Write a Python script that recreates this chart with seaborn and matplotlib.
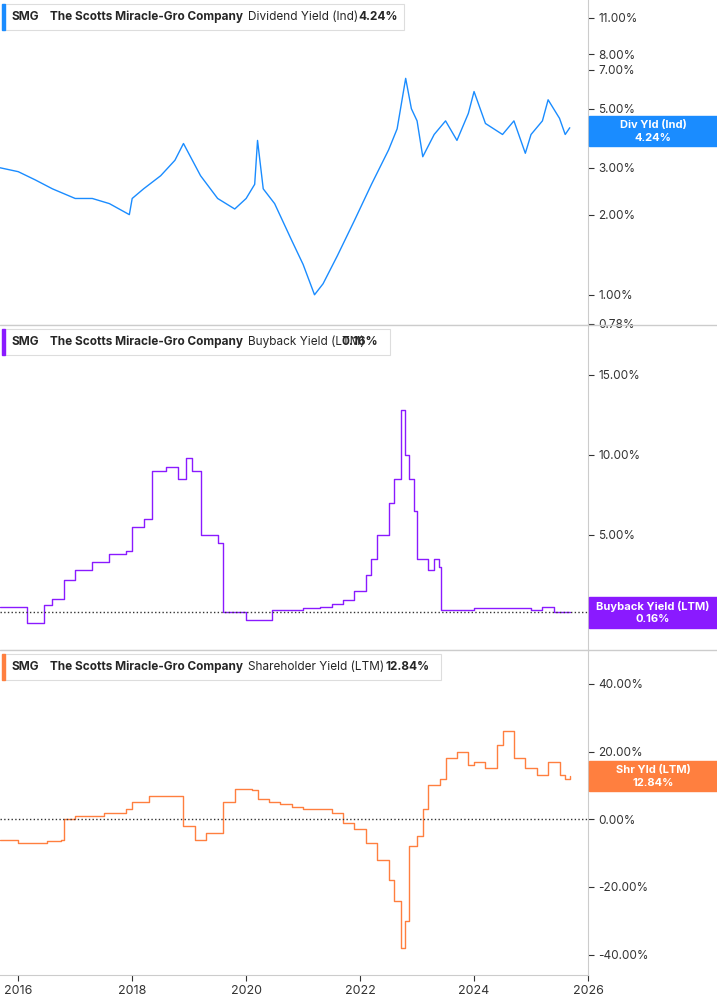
import matplotlib
matplotlib.use("Agg")
import matplotlib.pyplot as plt
import matplotlib.ticker as ticker
import seaborn as sns
import pandas as pd

sns.set_style("white")
plt.rcParams["font.family"] = "Inter"

# dividend yield (%), by decimal year
div_t = [2015.68, 2016.0, 2016.3, 2016.6, 2017.0, 2017.3, 2017.6, 2017.95, 2018.0, 2018.2, 2018.5, 2018.75, 2018.9,
         2019.2, 2019.5, 2019.8, 2020.0, 2020.15, 2020.2, 2020.3, 2020.5, 2020.8, 2021.0, 2021.2, 2021.35, 2021.6,
         2021.9, 2022.2, 2022.5, 2022.65, 2022.8, 2022.9, 2023.0, 2023.1, 2023.3, 2023.5, 2023.7, 2023.9, 2024.0,
         2024.2, 2024.5, 2024.7, 2024.9, 2025.0, 2025.2, 2025.3, 2025.5, 2025.6, 2025.68]
div_v = [3.0, 2.9, 2.7, 2.5, 2.3, 2.3, 2.2, 2.0, 2.3, 2.5, 2.8, 3.2, 3.7,
         2.8, 2.3, 2.1, 2.3, 2.6, 3.8, 2.5, 2.2, 1.6, 1.3, 1.0, 1.1, 1.4,
         1.9, 2.6, 3.5, 4.2, 6.5, 5.0, 4.5, 3.3, 4.0, 4.5, 3.8, 4.8, 5.8,
         4.4, 4.0, 4.5, 3.4, 4.0, 4.5, 5.4, 4.6, 4.0, 4.24]

# buyback yield (%)
bb_t = [2015.68, 2016.1, 2016.15, 2016.4, 2016.45, 2016.6, 2016.8, 2017.0, 2017.3, 2017.6, 2017.9, 2018.0, 2018.2,
        2018.35, 2018.6, 2018.8, 2018.95, 2019.05, 2019.2, 2019.5, 2019.6, 2019.9, 2020.0, 2020.4, 2020.45, 2021.0,
        2021.3, 2021.5, 2021.7, 2021.9, 2022.1, 2022.2, 2022.3, 2022.5, 2022.6, 2022.72, 2022.78, 2022.85, 2022.95,
        2023.0, 2023.2, 2023.3, 2023.38, 2023.42, 2024.0, 2025.0, 2025.2, 2025.4, 2025.68]
bb_v = [0.5, 0.5, -0.5, -0.5, 0.6, 1.0, 2.2, 2.8, 3.3, 3.8, 4.0, 5.5, 6.0,
        9.0, 9.2, 8.5, 9.8, 9.0, 5.0, 4.5, 0.2, 0.2, -0.3, -0.3, 0.3, 0.4,
        0.5, 0.7, 0.9, 1.5, 2.5, 3.5, 5.0, 7.0, 8.5, 12.8, 10.0, 8.5, 6.5,
        3.5, 2.8, 3.5, 3.0, 0.3, 0.4, 0.3, 0.5, 0.2, 0.16]

# shareholder yield (%)
sh_t = [2015.68, 2016.0, 2016.5, 2016.75, 2016.8, 2017.0, 2017.5, 2017.9, 2018.0, 2018.3, 2018.8, 2018.9, 2019.1,
        2019.3, 2019.6, 2019.8, 2020.1, 2020.2, 2020.4, 2020.6, 2020.8, 2021.0, 2021.3, 2021.5, 2021.7, 2021.9,
        2022.1, 2022.3, 2022.5, 2022.6, 2022.72, 2022.78, 2022.85, 2023.0, 2023.1, 2023.2, 2023.4, 2023.5, 2023.7,
        2023.9, 2024.0, 2024.2, 2024.4, 2024.5, 2024.7, 2024.9, 2025.1, 2025.3, 2025.5, 2025.6, 2025.68]
sh_v = [-6, -7, -6.5, -6, 0, 1, 2, 3, 5, 7, 7, -2, -6,
        -4, 5, 9, 8.5, 6, 5, 4.5, 3.5, 3, 3, 2, -1, -3,
        -7, -12, -18, -24, -38, -30, -8, -5, 3, 10, 12, 18, 20,
        16, 17, 15, 22, 26, 18, 15, 13, 17, 13, 12, 12.84]

W, H = 717, 1005
fig = plt.figure(figsize=(W / 100, H / 100), dpi=100)

def pax(top, bottom):
    return fig.add_axes([0, 1 - bottom / H, 588 / W, (bottom - top) / H])

ax1 = pax(0, 325)
ax2 = pax(325, 650)
ax3 = pax(650, 975)

blue, purple, orange = "#1a8cff", "#8a1aff", "#ff7f3f"

sns.lineplot(data=pd.DataFrame({"t": div_t, "v": div_v}), x="t", y="v", ax=ax1, color=blue, lw=1)
sns.lineplot(data=pd.DataFrame({"t": bb_t, "v": bb_v}), x="t", y="v", ax=ax2, color=purple, lw=1, drawstyle="steps-post")
sns.lineplot(data=pd.DataFrame({"t": sh_t, "v": sh_v}), x="t", y="v", ax=ax3, color=orange, lw=1, drawstyle="steps-post")

ax1.set_yscale("log")
ax1.set_ylim(0.77, 12.8)
ax1.yaxis.set_major_locator(ticker.FixedLocator([0.78, 1, 2, 3, 5, 7, 8, 11]))
ax1.yaxis.set_minor_locator(ticker.NullLocator())
ax2.set_ylim(-2.2, 18.1)
ax2.set_yticks([5, 10, 15])
ax3.set_ylim(-46, 50)
ax3.set_yticks([-40, -20, 0, 20, 40])
ax2.axhline(0.16, color="#333", ls=":", lw=1)
ax3.axhline(0, color="#333", ls=":", lw=1)

for ax in (ax1, ax2, ax3):
    ax.set_xlim(2015.68, 2026.0)
    ax.set_xlabel("")
    ax.set_ylabel("")
    ax.yaxis.tick_right()
    ax.yaxis.set_major_formatter(ticker.FuncFormatter(lambda v, p: f"{v:.2f}%"))
    ax.tick_params(axis="y", labelsize=8.5, colors="#333", length=4, right=True)
    for s in ("left", "top"):
        ax.spines[s].set_visible(False)
    ax.spines["right"].set_color("#ccc")
    ax.spines["bottom"].set_color("#ccc")
for ax in (ax1, ax2):
    ax.set_xticks([])
ax3.set_xticks([2016, 2018, 2020, 2022, 2024, 2026])
ax3.xaxis.set_major_formatter(ticker.FuncFormatter(lambda v, p: f"{int(v)}"))
ax3.tick_params(axis="x", labelsize=9, colors="#333", length=4, bottom=True)

# panel separators
for y in (325, 650):
    fig.add_artist(plt.Line2D([0, 1], [1 - y / H] * 2, color="#ccc", lw=1))

# header boxes: top y, colour, metric name, value, value x, box right edge
headers = [(4, blue, "Dividend Yield (Ind)", "4.24%", 358, 404),
           (329, purple, "Buyback Yield (LTM)", "0.16%", 342, 390),
           (654, orange, "Shareholder Yield (LTM)", "12.84%", 386, 441)]
for y, c, name, val, vx, right in headers:
    fig.add_artist(plt.Rectangle((2 / W, 1 - (y + 26) / H), (right - 2) / W, 26 / H,
                                 facecolor="white", edgecolor="#ddd", lw=0.8, zorder=5))
    fig.add_artist(plt.Rectangle((2 / W, 1 - (y + 26) / H), 3 / W, 26 / H, color=c, zorder=6))
    fy = 1 - (y + 13) / H
    fig.text(12 / W, fy, "SMG", fontsize=8.5, weight="bold", va="center", zorder=7)
    fig.text(50 / W, fy, "The Scotts Miracle-Gro Company", fontsize=8.5, weight="bold", va="center", zorder=7)
    fig.text(248 / W, fy, name, fontsize=8.5, va="center", zorder=7)
    fig.text(vx / W, fy, val, fontsize=8.5, weight="bold", va="center", zorder=7)

labels = [(116, 146, blue, "Div Yld (Ind)", "4.24%"),
          (597, 628, purple, "Buyback Yield (LTM)", "0.16%"),
          (761, 791, orange, "Shr Yld (LTM)", "12.84%")]
for y0, y1, c, a, b in labels:
    fig.add_artist(plt.Rectangle((589 / W, 1 - y1 / H), 128 / W, (y1 - y0) / H, color=c))
    fig.text(653 / W, 1 - (y0 + (y1 - y0) * 0.3) / H, a, fontsize=8, color="white", weight="bold", ha="center", va="center")
    fig.text(653 / W, 1 - (y0 + (y1 - y0) * 0.72) / H, b, fontsize=8, color="white", weight="bold", ha="center", va="center")

fig.savefig("out.png", dpi=100)
